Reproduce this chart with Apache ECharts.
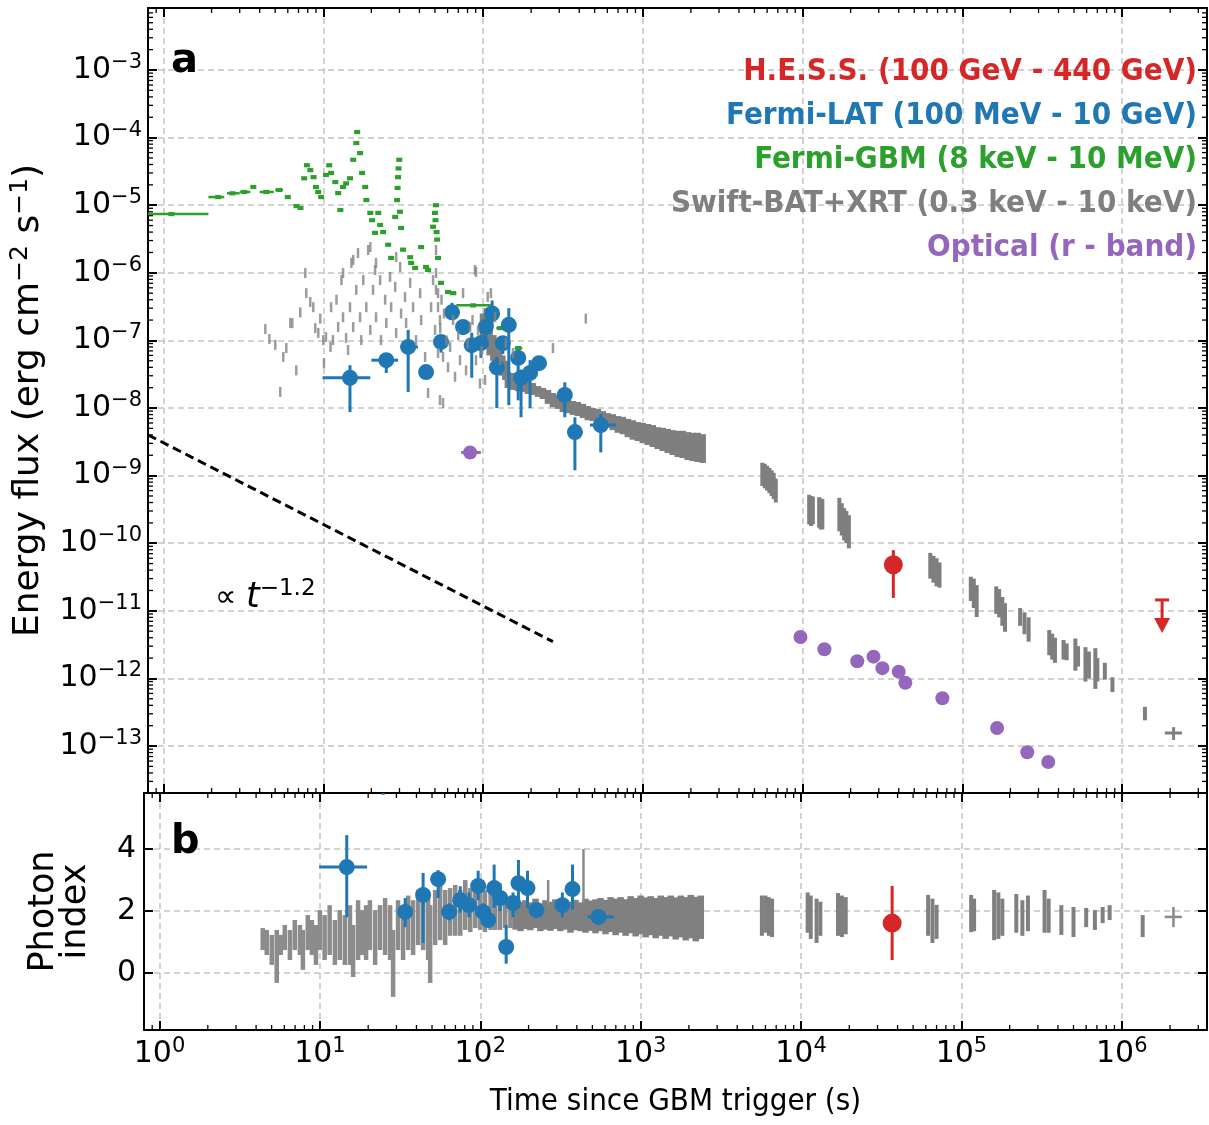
<!DOCTYPE html>
<html>
<head>
<meta charset="utf-8">
<script src="https://cdn.jsdelivr.net/npm/echarts@6/dist/echarts.min.js"></script>
<style>
html, body { margin: 0; padding: 0; background: #fff; }
#main { width: 1209px; height: 1125px; }
</style>
</head>
<body>
<div id="main"></div>
<script>
// tick positions
const xDecades = [1, 10, 100, 1e3, 1e4, 1e5, 1e6];
const fluxDecades = [1e-13, 1e-12, 1e-11, 1e-10, 1e-9, 1e-8, 1e-7, 1e-6, 1e-5, 1e-4, 1e-3];
const indexTicks = [0, 2, 4];

// [t, F, tlo, thi, Flo, Fhi]
const hessFlux = [[3.7e4, 4.8e-11, null, null, 1.55e-11, 7.9e-11]];
const hessIndex = [[3.7e4, 1.61, null, null, 0.42, 2.81]];
const hessUpperLimit = [[1.78e6, 1.45e-11]];

const latFlux = [
  [14.7, 2.8e-8, 9.9, 19.7, 8.7e-9, 4.3e-8],
  [24.8, 5.1e-8, 20.0, 29.4, 3.3e-8, 6.5e-8],
  [34, 8.0e-8, 30.4, 39.2, 1.73e-8, 1.43e-7],
  [44, 3.4e-8, null, null, 2.9e-8, 4.3e-8],
  [54.6, 9.5e-8, null, null, 6.6e-8, 1.2e-7],
  [64, 2.6e-7, 58.7, 69.6, 2.0e-7, 3.6e-7],
  [75, 1.58e-7, null, null, 1.2e-7, 2.0e-7],
  [85, 8.5e-8, null, null, 2.8e-8, 1.3e-7],
  [97, 9.1e-8, null, null, 5.5e-8, 1.2e-7],
  [104, 1.58e-7, null, null, 1.1e-7, 2.0e-7],
  [114, 2.5e-7, null, null, 1.58e-7, 3.9e-7],
  [122, 4.0e-8, null, null, 1.0e-8, 5.7e-8],
  [133, 9.1e-8, null, null, 6.3e-8, 1.1e-7],
  [145, 1.7e-7, null, null, 1.1e-8, 3.0e-7],
  [166, 5.5e-8, null, null, 1.3e-8, 7.3e-8],
  [173, 2.8e-8, null, null, 7.3e-9, 3.7e-8],
  [197, 3.3e-8, null, null, 1.0e-8, 5.1e-8],
  [224, 4.6e-8, null, null, 3.7e-8, 5.7e-8],
  [325, 1.56e-8, null, null, 7.3e-9, 2.4e-8],
  [376, 4.4e-9, 340, 420, 1.2e-9, 7.3e-9],
  [546, 5.6e-9, 467, 679, 2.2e-9, 8.1e-9]
];

const latIndex = [
  [14.7, 3.42, 9.9, 19.7, 1.8, 4.45],
  [24.8, 6.5, 20.0, 29.4, 5.75, 7.2],
  [34, 1.97, null, null, 1.48, 2.42],
  [44, 2.52, null, null, 0.97, 3.23],
  [54.6, 3.03, null, null, 2.42, 3.32],
  [64, 1.97, null, null, 1.7, 2.25],
  [75, 2.35, null, null, 1.95, 2.8],
  [85, 2.19, null, null, 1.8, 2.6],
  [97, 2.81, null, null, 2.35, 3.3],
  [104, 1.97, null, null, 1.7, 2.25],
  [112, 1.71, null, null, 1.5, 2.0],
  [122, 2.74, null, null, 2.1, 3.5],
  [133, 2.42, null, null, 2.0, 2.9],
  [145, 0.84, null, null, 0.3, 1.55],
  [160, 2.26, null, null, 1.8, 2.6],
  [173, 2.9, null, null, 2.1, 3.65],
  [197, 2.74, null, null, 2.1, 3.3],
  [224, 2.03, null, null, 1.85, 2.2],
  [325, 2.19, null, null, 1.8, 2.6],
  [376, 2.71, null, null, 2.05, 3.5],
  [546, 1.81, 467, 679, 1.6, 2.0]
];

// [t, F, tlo, thi]
const gbmFlux = [
  [1.12, 7.4e-6, 0.3, 1.91], [2.2, 1.32e-5, 1.91, 2.4], [2.7, 1.5e-5, 2.5, 3.0],
  [3.2, 1.57e-5, 3.0, 3.5], [3.65, 1.86e-5], [4.4, 1.57e-5, 4.0, 4.9], [5.3, 1.68e-5, 5.0, 5.6],
  [6.0, 1.32e-5], [6.8, 9.7e-6], [7.2, 9.1e-6], [7.6, 2.5e-5], [7.9, 3.9e-5], [8.3, 3.3e-5],
  [8.7, 2.6e-5], [9.0, 1.86e-5], [9.3, 1.57e-5], [9.7, 1.32e-5], [10.4, 2.8e-5], [10.9, 3.9e-5],
  [11.2, 3.0e-5], [11.9, 2.2e-5], [12.4, 1.51e-5], [12.8, 8.5e-6], [13.3, 1.86e-5], [13.9, 2.1e-5],
  [14.7, 2.5e-5], [15.4, 4.7e-5], [16.1, 8.3e-5], [16.3, 1.21e-4], [17.0, 5.9e-5], [17.5, 3.0e-5],
  [18.3, 1.86e-5], [18.6, 1.19e-5], [19.7, 7.7e-6], [20.2, 6.0e-6], [21.1, 3.9e-6], [22.1, 7.7e-6],
  [22.7, 5.1e-6], [23.7, 4.0e-6], [25.5, 2.6e-6], [26.6, 1.66e-6], [28.2, 6.7e-6], [29.0, 1.19e-5],
  [29.2, 1.8e-5], [29.4, 2.6e-5], [29.6, 3.5e-5], [29.9, 4.7e-5], [30.2, 8e-6], [30.7, 4.6e-6],
  [31.6, 2.2e-6], [35, 1.7e-6], [35.5, 1.4e-6], [37.6, 1.18e-6], [41, 2.4e-6], [44, 1.22e-6],
  [45.3, 1.1e-6], [48.7, 4.8e-6], [50, 7.7e-6], [50.4, 6e-6], [50.8, 1.0e-5], [51.2, 4e-6],
  [51.6, 3.1e-6], [52.3, 1.66e-6], [54.6, 7.1e-7], [60.4, 5.2e-7], [65, 5.0e-7, 62, 68],
  [86.6, 3.3e-7, 68, 112], [128, 1.52e-7, 121, 136], [166, 7.7e-8, 158, 176]
];

const opticalFlux = [
  [83, 2.2e-9, 73, 97], [9.7e3, 4.1e-12], [1.37e4, 2.7e-12], [2.2e4, 1.8e-12], [2.78e4, 2.1e-12],
  [3.16e4, 1.42e-12], [4.0e4, 1.26e-12], [4.4e4, 8.6e-13], [7.5e4, 5.1e-13], [1.65e5, 1.85e-13],
  [2.55e5, 8.1e-14], [3.45e5, 5.8e-14]
];

// Swift early points [t, F]
const swiftEarly = [
  [4.34, 1.47e-7], [4.6, 1.05e-7], [5.01, 8.6e-8], [5.38, 1.73e-8], [5.62, 5.7e-8], [5.87, 7.7e-8],
  [6.22, 1.81e-7], [6.4, 1.8e-7], [6.78, 3.6e-8], [7.18, 2.6e-7], [7.72, 9.9e-7], [7.83, 5.0e-7],
  [8.29, 3.7e-7], [8.66, 3.1e-7], [8.91, 1.52e-7], [9.31, 1.29e-7], [9.58, 2.1e-7], [10.0, 1.01e-7],
  [10.1, 4.6e-8], [10.4, 1.12e-7], [11.1, 8.0e-8], [11.2, 3.1e-7], [11.5, 1.01e-7], [12.1, 4.0e-7],
  [12.4, 1.58e-7], [13.0, 7.8e-7], [13.3, 2.2e-7], [13.3, 9.9e-7], [13.9, 1.09e-7], [14.3, 7.2e-8],
  [14.7, 3.1e-7], [15.0, 1.4e-6], [15.4, 1.58e-7], [15.4, 1.55e-6], [16.1, 5.6e-7], [16.5, 1.96e-6],
  [17.0, 2.2e-7], [17.3, 1.01e-7], [17.8, 7.8e-7], [18.6, 3.1e-7], [19.1, 2.17e-6], [19.7, 1.43e-7],
  [19.7, 2.4e-6], [20.5, 5.6e-7], [21.1, 1.1e-6], [21.4, 2.2e-7], [21.4, 1.4e-6], [22.7, 7.8e-7],
  [23.0, 1.01e-7], [24.4, 4.0e-7], [24.8, 1.81e-7], [26.2, 8.7e-7], [26.6, 3.1e-7], [28.2, 6.2e-7],
  [28.6, 1.29e-7], [28.6, 1.71e-6], [30.3, 1.22e-6], [30.7, 2.5e-7], [32.5, 4.4e-7], [33.0, 1.81e-7],
  [35.0, 7.1e-7], [36.5, 3.1e-7], [38.1, 1.01e-7], [40.4, 5.0e-7], [41.0, 2.0e-7], [43.4, 5.7e-8],
  [45.3, 1.67e-8], [47.3, 3.1e-7], [48.7, 7.8e-7], [50.1, 1.43e-7], [50.8, 5.6e-7], [50.8, 2.17e-6],
  [50.8, 9.9e-7], [52.3, 6.5e-8], [52.3, 5.0e-7], [52.3, 3.1e-7], [53.8, 1.31e-8], [53.8, 2.0e-7],
  [54, 1.5e-7], [55, 4e-7], [56.2, 1.19e-8], [56.2, 5.7e-8], [57, 2.5e-7], [59, 1.0e-7],
  [60.4, 4.0e-8], [62.2, 8.0e-8], [65, 2.0e-7], [66.8, 2.9e-8], [70, 1.2e-7], [71.8, 5.1e-8],
  [75.0, 5.0e-7], [78.3, 3.6e-8], [80, 9e-8], [83.0, 1.58e-7], [86, 2e-7], [89.1, 1.1e-6],
  [90.4, 5.1e-8], [90.4, 1.03e-6], [93, 1.4e-7], [95.7, 2.3e-8], [98, 7e-8], [103, 2.6e-8],
  [107, 4.4e-7], [112, 5.0e-7], [119, 2.2e-7], [128, 5.1e-8], [139, 9.2e-8], [154, 6.5e-8],
  [274, 7.7e-8], [440, 2.1e-7]
];

// Swift dense light curve [t, Flo, Fhi]
const swiftBand = [
  [100, 8e-8, 2.5e-7], [106, 1.0e-7, 3.0e-7], [110, 6e-8, 1.8e-7], [116, 5e-8, 1.2e-7],
  [120, 4e-8, 1.0e-7], [126, 3.5e-8, 8e-8], [132, 3e-8, 6e-8], [138, 2.6e-8, 5e-8],
  [143, 1.98e-8, 3.41e-8], [154, 1.85e-8, 3.3e-8], [166, 1.78e-8, 2.97e-8], [178, 1.72e-8, 2.69e-8],
  [191, 1.61e-8, 2.51e-8], [205, 1.56e-8, 2.34e-8], [221, 1.46e-8, 2.11e-8], [237, 1.36e-8, 1.98e-8],
  [255, 1.15e-8, 1.85e-8], [274, 1.03e-8, 1.67e-8], [294, 9.7e-9, 1.56e-8], [316, 8.7e-9, 1.46e-8],
  [340, 8.4e-9, 1.41e-8], [365, 7.9e-9, 1.27e-8], [392, 7.6e-9, 1.23e-8], [422, 7.1e-9, 1.15e-8],
  [453, 6.6e-9, 1.07e-8], [487, 6.4e-9, 1.0e-8], [523, 6.0e-9, 9.7e-9], [562, 5.6e-9, 9.0e-9],
  [604, 5.1e-9, 8.4e-9], [649, 4.7e-9, 8.1e-9], [698, 4.3e-9, 7.6e-9], [750, 4.1e-9, 7.4e-9],
  [806, 3.7e-9, 6.9e-9], [866, 3.4e-9, 6.6e-9], [931, 3.25e-9, 6.2e-9], [1000, 3.03e-9, 6.0e-9],
  [1075, 2.84e-9, 5.8e-9], [1155, 2.65e-9, 5.6e-9], [1241, 2.47e-9, 5.2e-9], [1334, 2.31e-9, 5.1e-9],
  [1433, 2.16e-9, 4.9e-9], [1540, 2.02e-9, 4.7e-9], [1655, 1.88e-9, 4.6e-9], [1778, 1.82e-9, 4.6e-9],
  [1911, 1.7e-9, 4.4e-9], [2054, 1.64e-9, 4.3e-9], [2207, 1.59e-9, 4.3e-9], [2371, 1.54e-9, 4.1e-9]
];
// Swift late orbits [t, Flo, Fhi]
const swiftLate = [
  [5.6e3, 7.0e-10, 1.55e-9], [5.8e3, 6.5e-10, 1.5e-9], [6.0e3, 6e-10, 1.4e-9], [6.2e3, 5.5e-10, 1.3e-9],
  [6.4e3, 5e-10, 1.2e-9], [6.6e3, 4.5e-10, 1.1e-9], [6.8e3, 4e-10, 9e-10],
  [1.1e4, 1.9e-10, 5.2e-10], [1.13e4, 1.8e-10, 5.0e-10], [1.16e4, 1.9e-10, 4.9e-10],
  [1.27e4, 1.7e-10, 4.8e-10], [1.3e4, 1.6e-10, 4.6e-10], [1.33e4, 1.6e-10, 4.5e-10],
  [1.7e4, 1.5e-10, 4.7e-10], [1.76e4, 1.3e-10, 3.9e-10], [1.82e4, 1.1e-10, 3.3e-10],
  [1.88e4, 1.0e-10, 3.0e-10], [1.95e4, 8.4e-11, 2.6e-10],
  [6.3e4, 3.0e-11, 7.2e-11], [6.6e4, 2.6e-11, 6.5e-11], [6.9e4, 2.3e-11, 6.0e-11], [7.2e4, 2.2e-11, 5.2e-11],
  [1.13e5, 1.4e-11, 3.2e-11], [1.18e5, 1.1e-11, 3.0e-11], [1.23e5, 8.1e-12, 2.4e-11],
  [1.63e5, 9e-12, 2.3e-11], [1.7e5, 8e-12, 2.1e-11], [1.78e5, 6e-12, 1.6e-11], [1.85e5, 4.9e-12, 1.3e-11],
  [2.3e5, 6e-12, 1.1e-11], [2.45e5, 4.5e-12, 9.5e-12], [2.6e5, 3.5e-12, 8e-12],
  [3.5e5, 2.2e-12, 5.2e-12], [3.65e5, 1.9e-12, 4.6e-12], [3.8e5, 1.7e-12, 4.0e-12],
  [4.3e5, 1.9e-12, 3.7e-12], [4.5e5, 1.86e-12, 3.3e-12], [5.1e5, 1.3e-12, 3.9e-12], [5.3e5, 1.5e-12, 3.0e-12],
  [5.9e5, 9e-13, 2.9e-12], [6.2e5, 1.0e-12, 2.5e-12], [6.8e5, 7e-13, 2.8e-12], [7.0e5, 9e-13, 2.0e-12],
  [7.8e5, 9.6e-13, 1.7e-12], [8.7e5, 6.3e-13, 1.04e-12], [1.39e6, 2.4e-13, 3.8e-13]
];
const swiftLast = [[2.1e6, 1.56e-13, 1.85e6, 2.37e6, 1.23e-13, 1.9e-13]];

// Swift photon index [t, lo, hi]
const swiftIndexEarly = [
  [4.4, 0.74, 1.45], [4.66, 0.58, 1.39], [5.01, 0.26, 1.23], [5.38, -0.32, 1.39], [5.7, 0.58, 1.23],
  [6.04, 0.74, 1.55], [6.5, 0.42, 1.39], [6.97, 0.74, 1.71], [7.5, 0.58, 1.55], [7.83, 0.1, 1.39],
  [8.4, 0.74, 1.87], [8.91, 0.58, 1.71], [9.45, 0.26, 1.55], [10.0, 0.74, 2.03], [10.7, 0.42, 1.87],
  [11.5, 0.58, 2.19], [12.4, 0.26, 1.71], [13.3, 0.42, 2.03], [14.3, 0.26, 1.87], [15.4, 0.26, 2.19],
  [16.1, -0.13, 1.55], [17.3, 0.42, 2.35], [18.3, 0.58, 2.03], [19.4, 0.42, 2.19], [20.5, 0.74, 2.35],
  [22.1, 0.26, 2.03], [23.7, 0.74, 2.19], [25.5, 0.58, 2.42], [27.4, 0.42, 2.19], [28.6, -0.77, 1.39],
  [30.7, 0.74, 2.35], [33.0, 0.42, 2.19], [35.5, 0.74, 2.5], [38.1, 0.58, 2.35], [41.0, 0.9, 2.68],
  [44.0, 0.74, 2.52], [47.3, 0.42, 2.52], [48.7, -0.32, 2.19], [52.3, 0.9, 2.68], [56.2, 1.06, 2.84],
  [60.4, 0.9, 2.68], [64.9, 1.2, 2.74], [69.8, 1.2, 2.84], [75.0, 1.2, 2.68], [80.6, 1.39, 3.0],
  [86.6, 1.32, 2.74], [93.1, 1.45, 2.84], [100, 1.39, 2.84], [107, 1.32, 2.68], [116, 1.39, 2.61],
  [124, 1.39, 2.52], [133, 1.39, 2.52], [143, 1.45, 2.52], [154, 1.45, 2.42]
];
const swiftIndexBand = [
  [166, 1.4, 2.4], [178, 1.35, 2.3], [191, 1.42, 2.35], [205, 1.38, 2.28], [221, 1.45, 2.4],
  [237, 1.35, 2.25], [255, 1.4, 2.35], [274, 1.36, 2.3], [294, 1.42, 2.38], [316, 1.35, 2.26],
  [340, 1.4, 2.33], [365, 1.3, 2.3], [392, 1.38, 2.36], [422, 1.35, 2.28], [453, 1.3, 2.4],
  [487, 1.36, 2.34], [523, 1.28, 2.38], [562, 1.35, 2.42], [604, 1.25, 2.36], [649, 1.32, 2.45],
  [698, 1.22, 2.4], [750, 1.3, 2.45], [806, 1.2, 2.38], [866, 1.28, 2.48], [931, 1.18, 2.42],
  [1000, 1.25, 2.5], [1075, 1.15, 2.44], [1155, 1.22, 2.48], [1241, 1.12, 2.42], [1334, 1.2, 2.5],
  [1433, 1.1, 2.45], [1540, 1.18, 2.5], [1655, 1.08, 2.44], [1778, 1.15, 2.5], [1911, 1.05, 2.45],
  [2054, 1.12, 2.52], [2207, 1.02, 2.46], [2371, 1.1, 2.5]
];
const swiftIndexLate = [
  [5.7e3, 1.2, 2.5], [6.0e3, 1.3, 2.5], [6.3e3, 1.2, 2.45], [6.6e3, 1.16, 2.4],
  [1.1e4, 1.3, 2.6], [1.15e4, 1.1, 2.5], [1.25e4, 0.97, 2.4], [1.32e4, 1.2, 2.3],
  [1.7e4, 1.2, 2.58], [1.8e4, 1.16, 2.5], [1.9e4, 1.25, 2.45],
  [6.2e4, 1.2, 2.52], [6.6e4, 0.97, 2.4], [7.0e4, 1.1, 2.2],
  [1.15e5, 1.32, 2.52], [1.2e5, 1.35, 2.4],
  [1.6e5, 1.06, 2.68], [1.7e5, 1.1, 2.6], [1.8e5, 1.2, 2.4],
  [2.2e5, 1.3, 2.55], [2.4e5, 1.2, 2.35], [2.6e5, 1.35, 2.5],
  [3.3e5, 1.3, 2.68], [3.5e5, 1.3, 2.4], [4.2e5, 1.23, 2.19], [5.0e5, 1.16, 2.13],
  [6.0e5, 1.48, 2.1], [6.8e5, 1.39, 2.03], [7.6e5, 1.61, 2.13], [8.4e5, 1.71, 2.19], [1.35e6, 1.16, 1.87]
];
const swiftIndexPts = [
  [265, 2.45, null, null, 2.2, 3.0],
  [440, 3.0, null, null, 2.25, 4.0],
  [2.1e6, 1.81, 1.85e6, 2.37e6, 1.48, 2.13]
];

// t^-1.2 guide
const powerLaw = [[0.8, 4.0e-9], [274, 3.5e-12]];

const C = { red: '#d62728', blue: '#1f77b4', green: '#2ca02c', gray: '#7f7f7f', purple: '#9467bd' };
const condensed = '"DejaVu Sans Condensed", "DejaVu Sans", sans-serif';
const sans = '"DejaVu Sans", sans-serif';

const minorX = [];
[0.1, 1, 10, 100, 1e3, 1e4, 1e5, 1e6].forEach(d => { for (let k = 2; k <= 9; k++) minorX.push(k * d); });
const minorY = [];
[1e-14, 1e-13, 1e-12, 1e-11, 1e-10, 1e-9, 1e-8, 1e-7, 1e-6, 1e-5, 1e-4, 1e-3].forEach(d => { for (let k = 2; k <= 9; k++) minorY.push(k * d); });

function errorItem(color, r, lw, shape) {
  return function (params, api) {
    const t = api.value(0), f = api.value(1);
    const c = api.coord([t, f]);
    const kids = [];
    const st = { stroke: color, lineWidth: lw };
    const tlo = api.value(2), thi = api.value(3), flo = api.value(4), fhi = api.value(5);
    if (Number.isFinite(tlo) && Number.isFinite(thi)) {
      const a = api.coord([tlo, f]), b = api.coord([thi, f]);
      kids.push({ type: 'line', shape: { x1: a[0], y1: c[1], x2: b[0], y2: c[1] }, style: st });
    }
    if (Number.isFinite(flo) && Number.isFinite(fhi)) {
      const a = api.coord([t, flo]), b = api.coord([t, fhi]);
      kids.push({ type: 'line', shape: { x1: c[0], y1: a[1], x2: c[0], y2: b[1] }, style: st });
    }
    if (shape === 'circle') {
      kids.push({ type: 'circle', shape: { cx: c[0], cy: c[1], r: r }, style: { fill: color } });
    } else if (shape === 'rect') {
      kids.push({ type: 'rect', shape: { x: c[0] - r, y: c[1] - r * 0.7, width: 2 * r, height: 1.4 * r }, style: { fill: color } });
    }
    return { type: 'group', children: kids };
  };
}

function barItem(color, lw) {
  return function (params, api) {
    const a = api.coord([api.value(0), api.value(1)]);
    const b = api.coord([api.value(0), api.value(2)]);
    return { type: 'line', shape: { x1: a[0], y1: a[1], x2: b[0], y2: b[1] }, style: { stroke: color, lineWidth: lw } };
  };
}

function upperLimitItem(params, api) {
  const c = api.coord([api.value(0), api.value(1)]);
  const col = C.red;
  return {
    type: 'group', children: [
      { type: 'line', shape: { x1: c[0] - 7, y1: c[1], x2: c[0] + 7, y2: c[1] }, style: { stroke: col, lineWidth: 3 } },
      { type: 'line', shape: { x1: c[0], y1: c[1], x2: c[0], y2: c[1] + 22 }, style: { stroke: col, lineWidth: 3 } },
      { type: 'polygon', shape: { points: [[c[0] - 8, c[1] + 18], [c[0] + 8, c[1] + 18], [c[0], c[1] + 33]] }, style: { fill: col } }
    ]
  };
}

function minorXItem(params, api) {
  const cs = params.coordSys;
  const x = api.coord([api.value(0), api.value(1)])[0];
  if (x < cs.x + 1 || x > cs.x + cs.width - 1) return;
  const st = { stroke: '#000', lineWidth: 1.3 };
  return {
    type: 'group', children: [
      { type: 'line', shape: { x1: x, y1: cs.y + cs.height, x2: x, y2: cs.y + cs.height - 5 }, style: st },
      { type: 'line', shape: { x1: x, y1: cs.y, x2: x, y2: cs.y + 5 }, style: st }
    ]
  };
}

function minorYItem(params, api) {
  const cs = params.coordSys;
  const y = api.coord([api.value(0), api.value(1)])[1];
  if (y < cs.y + 1 || y > cs.y + cs.height - 1) return;
  const st = { stroke: '#000', lineWidth: 1.3 };
  return {
    type: 'group', children: [
      { type: 'line', shape: { x1: cs.x, y1: y, x2: cs.x + 5, y2: y }, style: st },
      { type: 'line', shape: { x1: cs.x + cs.width, y1: y, x2: cs.x + cs.width - 5, y2: y }, style: st }
    ]
  };
}

function custom(data, xi, yi, render, dims, clip) {
  return {
    type: 'custom', xAxisIndex: xi, yAxisIndex: yi, data: data, renderItem: render,
    dimensions: dims, encode: { x: 0, y: 1 }, clip: clip !== false, silent: true
  };
}

const errDims = ['t', 'v', 'tlo', 'thi', 'vlo', 'vhi'];
const barDims = ['t', 'lo', 'hi'];

function expLabel(v) {
  const e = Math.round(Math.log10(v));
  return '{b|10}{s|' + String(e).replace('-', '\u2212') + '}';
}
const expRich = {
  b: { fontSize: 30, fontFamily: sans, color: '#000', lineHeight: 36 },
  s: { fontSize: 21, fontFamily: sans, color: '#000', lineHeight: 12, verticalAlign: 'top' }
};

const axisLine = { onZero: false, lineStyle: { color: '#000', width: 2 } };
const gridLine = { show: true, lineStyle: { color: '#c4c4c4', width: 1.5, type: [6, 4] } };
const xMin = 0.8, xMax = 3.4e6;

function xAxis(gi, pos, withLabels) {
  return {
    type: 'log', logBase: 10, gridIndex: gi, position: pos, min: xMin, max: xMax,
    axisLine: axisLine,
    axisTick: { inside: true, length: 9, customValues: xDecades, lineStyle: { color: '#000', width: 2 } },
    axisLabel: withLabels ? { customValues: xDecades, formatter: expLabel, rich: expRich, margin: 6 } : { show: false },
    splitLine: pos === 'bottom' ? gridLine : { show: false },
    name: withLabels ? 'Time since GBM trigger (s)' : '',
    nameLocation: 'middle', nameGap: 56,
    nameTextStyle: { fontSize: 31, fontFamily: condensed, color: '#000' }
  };
}

function yFluxAxis(pos) {
  const left = pos === 'left';
  return {
    type: 'log', logBase: 10, gridIndex: 0, position: pos, min: 2.02e-14, max: 8.26e-3,
    axisLine: axisLine,
    axisTick: { inside: true, length: 9, customValues: fluxDecades, lineStyle: { color: '#000', width: 2 } },
    axisLabel: left ? { customValues: fluxDecades, formatter: expLabel, rich: expRich, margin: 6 } : { show: false },
    splitLine: left ? gridLine : { show: false },
    name: left ? '{n|Energy flux (erg cm}{s|\u22122}{n| s}{s|\u22121}{n|)}' : '',
    nameLocation: 'middle', nameGap: 98, nameRotate: 90,
    nameTextStyle: {
      rich: {
        n: { fontSize: 36, fontFamily: sans, color: '#000', lineHeight: 42 },
        s: { fontSize: 25, fontFamily: sans, color: '#000', lineHeight: 16, verticalAlign: 'top' }
      }
    }
  };
}

function yIndexAxis(pos) {
  const left = pos === 'left';
  return {
    type: 'value', gridIndex: 1, position: pos, min: -1.84, max: 5.81,
    axisLine: axisLine,
    axisTick: { inside: true, length: 9, customValues: indexTicks, lineStyle: { color: '#000', width: 2 } },
    axisLabel: left ? { customValues: indexTicks, fontSize: 30, fontFamily: sans, color: '#000', margin: 8 } : { show: false },
    splitLine: left ? gridLine : { show: false },
    name: left ? 'Photon\nindex' : '',
    nameLocation: 'middle', nameGap: 52, nameRotate: 90,
    nameTextStyle: { fontSize: 35, fontFamily: sans, color: '#000', lineHeight: 32 }
  };
}

const chart = echarts.init(document.getElementById('main'), null, { renderer: 'canvas' });

const legendRows = [
  ['H.E.S.S. (100 GeV - 440 GeV)', C.red],
  ['Fermi-LAT (100 MeV - 10 GeV)', C.blue],
  ['Fermi-GBM (8 keV - 10 MeV)', C.green],
  ['Swift-BAT+XRT (0.3 keV - 10 keV)', C.gray],
  ['Optical (r - band)', C.purple]
];

const graphics = legendRows.map((row, i) => ({
  type: 'text', x: 1197, y: 72 + i * 44, silent: true, z: 100,
  style: {
    text: row[0], fill: row[1], fontSize: 31, fontWeight: 'bold', fontFamily: condensed,
    align: 'right', verticalAlign: 'middle', textAlign: 'right', textVerticalAlign: 'middle'
  }
}));
graphics.push(
  { type: 'text', x: 171, y: 62, silent: true, z: 100, style: { text: 'a', fill: '#000', fontSize: 40, fontWeight: 'bold', fontFamily: sans, verticalAlign: 'middle', textVerticalAlign: 'middle' } },
  { type: 'text', x: 171, y: 843, silent: true, z: 100, style: { text: 'b', fill: '#000', fontSize: 40, fontWeight: 'bold', fontFamily: sans, verticalAlign: 'middle', textVerticalAlign: 'middle' } },
  {
    type: 'text', x: 215, y: 598, silent: true, z: 100,
    style: {
      text: '{n|\u221d }{t|t}{s|\u22121.2}', verticalAlign: 'middle', textVerticalAlign: 'middle',
      rich: {
        n: { fontSize: 30, fontFamily: sans, color: '#000', lineHeight: 40 },
        t: { fontSize: 35, fontFamily: sans, fontStyle: 'italic', color: '#000', lineHeight: 40 },
        s: { fontSize: 23, fontFamily: sans, color: '#000', lineHeight: 18, verticalAlign: 'top' }
      }
    }
  }
);

chart.setOption({
  backgroundColor: '#fff',
  animation: false,
  grid: [
    { left: 144, top: 8, right: 2, height: 785 },
    { left: 144, top: 793, right: 2, height: 237 }
  ],
  xAxis: [xAxis(0, 'bottom', false), xAxis(0, 'top', false), xAxis(1, 'bottom', true), xAxis(1, 'top', false)],
  yAxis: [yFluxAxis('left'), yFluxAxis('right'), yIndexAxis('left'), yIndexAxis('right')],
  graphic: graphics,
  series: [
    custom(minorX.map(v => [v, 1e-10]), 0, 0, minorXItem, ['t', 'v'], false),
    custom(minorX.map(v => [v, 1]), 2, 2, minorXItem, ['t', 'v'], false),
    custom(minorY.map(v => [10, v]), 0, 0, minorYItem, ['t', 'v'], false),
    {
      type: 'scatter', xAxisIndex: 0, yAxisIndex: 0, data: swiftEarly, silent: true,
      symbol: 'rect', symbolSize: [2.5, 10], itemStyle: { color: '#858585' }
    },
    custom(swiftBand, 0, 0, barItem(C.gray, 6.5), barDims),
    custom(swiftLate, 0, 0, barItem(C.gray, 4), barDims),
    custom(swiftLast, 0, 0, errorItem(C.gray, 0, 3, 'none'), errDims),
    custom(gbmFlux, 0, 0, errorItem(C.green, 3, 2.5, 'rect'), errDims),
    {
      type: 'line', xAxisIndex: 0, yAxisIndex: 0, data: powerLaw, silent: true,
      showSymbol: false, lineStyle: { color: '#000', width: 3, type: [9, 5] }
    },
    custom(latFlux, 0, 0, errorItem(C.blue, 8, 3, 'circle'), errDims),
    custom(opticalFlux, 0, 0, errorItem(C.purple, 7, 3, 'circle'), errDims),
    custom(hessFlux, 0, 0, errorItem(C.red, 9.5, 3, 'circle'), errDims),
    custom(hessUpperLimit, 0, 0, upperLimitItem, ['t', 'v']),
    custom(swiftIndexEarly, 2, 2, barItem('#8c8c8c', 4.5), barDims),
    custom(swiftIndexBand, 2, 2, barItem('#808080', 6.5), barDims),
    custom(swiftIndexLate, 2, 2, barItem('#808080', 4), barDims),
    custom(swiftIndexPts, 2, 2, errorItem('#8a8a8a', 0, 2.5, 'none'), errDims),
    custom(latIndex, 2, 2, errorItem(C.blue, 8, 3, 'circle'), errDims),
    custom(hessIndex, 2, 2, errorItem(C.red, 9.5, 3, 'circle'), errDims)
  ]
});
</script>
</body>
</html>
